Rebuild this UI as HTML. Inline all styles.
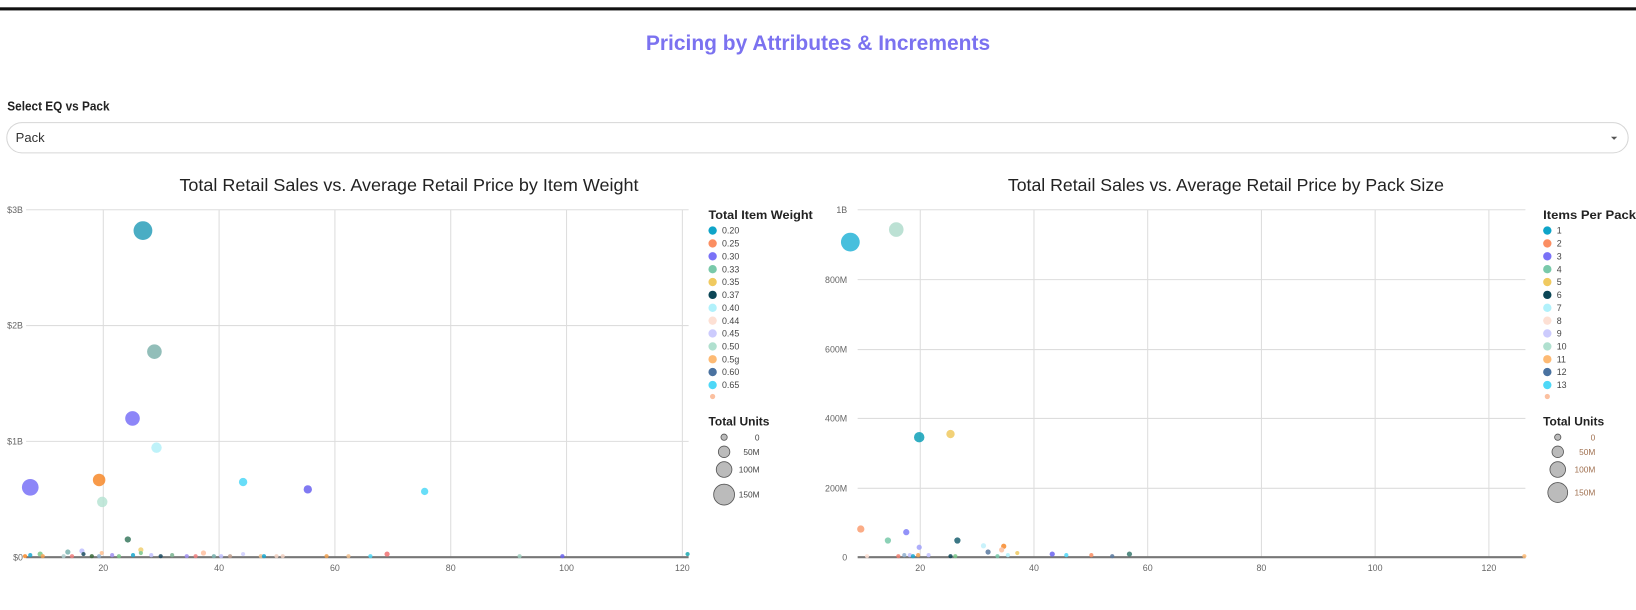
<!DOCTYPE html>
<html><head><meta charset="utf-8"><style>
html,body{margin:0;padding:0;background:#fff;width:1636px;height:610px;overflow:hidden}
svg{display:block}
text{font-family:"Liberation Sans",sans-serif}
</style></head><body>
<svg width="1636" height="610" viewBox="0 0 1568 584.6" preserveAspectRatio="none" xmlns="http://www.w3.org/2000/svg">
<rect x="0" y="7" width="1568" height="3" fill="#111"/>
<text x="784" y="48" text-anchor="middle" font-size="20" font-weight="bold" fill="#7b72f0" textLength="330" lengthAdjust="spacingAndGlyphs">Pricing by Attributes &amp; Increments</text>
<text x="7" y="106" font-size="12" font-weight="bold" fill="#222" textLength="98" lengthAdjust="spacingAndGlyphs">Select EQ vs Pack</text>
<rect x="6.5" y="117.5" width="1554" height="29" rx="14.5" fill="#fff" stroke="#d6d6d6"/>
<text x="15" y="136" font-size="12.5" fill="#333">Pack</text>
<path d="M1544 131 l6 0 l-3 3 z" fill="#555"/>

<!-- LEFT CHART -->
<text x="392" y="183" text-anchor="middle" font-size="17" fill="#222" textLength="440" lengthAdjust="spacingAndGlyphs">Total Retail Sales vs. Average Retail Price by Item Weight</text>
<g stroke="#ddd" stroke-width="1">
<line x1="25" y1="201" x2="660" y2="201"/><line x1="25" y1="312" x2="660" y2="312"/><line x1="25" y1="423" x2="660" y2="423"/>
<line x1="99" y1="201" x2="99" y2="534"/><line x1="210" y1="201" x2="210" y2="534"/><line x1="321" y1="201" x2="321" y2="534"/><line x1="432" y1="201" x2="432" y2="534"/><line x1="543" y1="201" x2="543" y2="534"/><line x1="654" y1="201" x2="654" y2="534"/>
</g>
<line x1="25" y1="534" x2="660" y2="534" stroke="#777" stroke-width="2"/>
<g font-size="8.5" fill="#666" text-anchor="end">
<text x="22" y="204">$3B</text><text x="22" y="315">$2B</text><text x="22" y="426">$1B</text><text x="22" y="537">$0</text>
</g>
<g font-size="8.5" fill="#666" text-anchor="middle">
<text x="99" y="547">20</text><text x="210" y="547">40</text><text x="321" y="547">60</text><text x="432" y="547">80</text><text x="543" y="547">100</text><text x="654" y="547">120</text>
</g>
<g opacity="0.85">
<circle cx="137" cy="221" r="9" fill="#2a9fba"/>
<circle cx="148" cy="337" r="7" fill="#7fb3ad"/>
<circle cx="127" cy="401" r="7" fill="#7a72f7"/>
<circle cx="150" cy="429" r="5" fill="#b3f0f9"/>
<circle cx="29" cy="467" r="8" fill="#7a72f7"/>
<circle cx="95" cy="460" r="6" fill="#f7892a"/>
<circle cx="98" cy="481" r="5" fill="#b8e4d4"/>
<circle cx="233" cy="462" r="4" fill="#4ed8f7"/>
<circle cx="295" cy="469" r="4" fill="#6a62f0"/>
<circle cx="407" cy="471" r="3.5" fill="#4ed8f7"/>
<circle cx="122.5" cy="517" r="3" fill="#3a7a60"/>
<circle cx="24" cy="533" r="2" fill="#f7892a"/><circle cx="29" cy="532" r="2" fill="#1aa8d0"/><circle cx="38.5" cy="531" r="2.5" fill="#7bc78a"/><circle cx="41" cy="533" r="2" fill="#f0a050"/>
<circle cx="65" cy="529" r="2.5" fill="#7ab3b0"/><circle cx="61" cy="533" r="2" fill="#b0d0d0"/><circle cx="69" cy="533" r="2" fill="#f08080"/>
<circle cx="78.5" cy="528" r="2.5" fill="#c0c0ff"/><circle cx="80" cy="531" r="2" fill="#1a4a60"/><circle cx="88" cy="533" r="2" fill="#3a6a3a"/>
<circle cx="97.5" cy="530" r="2" fill="#ffc090"/><circle cx="95" cy="533" r="2" fill="#90b0d0"/><circle cx="107.5" cy="532" r="2" fill="#a090f0"/><circle cx="114" cy="533" r="2" fill="#7bc78a"/>
<circle cx="127.5" cy="532" r="2" fill="#1aa8d0"/><circle cx="135" cy="527" r="2.5" fill="#f0d070"/><circle cx="135" cy="530" r="2" fill="#7bc78a"/>
<circle cx="145" cy="532" r="2" fill="#c0c0ff"/><circle cx="154" cy="533" r="2" fill="#1a4a60"/><circle cx="165" cy="532" r="2" fill="#7ab390"/>
<circle cx="179" cy="533" r="2" fill="#a090f0"/><circle cx="187.5" cy="533" r="2" fill="#f08080"/><circle cx="195" cy="530" r="2.5" fill="#ffc0a0"/>
<circle cx="205" cy="533" r="2" fill="#7ab3b0"/><circle cx="212" cy="533" r="2" fill="#c0c0ff"/><circle cx="220.5" cy="533" r="2" fill="#c0a090"/><circle cx="233" cy="531" r="2" fill="#d0d0ff"/>
<circle cx="250" cy="533" r="2" fill="#f0c090"/><circle cx="253" cy="533" r="2" fill="#1aa8d0"/><circle cx="265" cy="533" r="2" fill="#f0d0c0"/><circle cx="271" cy="533" r="2" fill="#f0d0c0"/>
<circle cx="313" cy="533" r="2" fill="#f0a050"/><circle cx="334" cy="533" r="2" fill="#f0c090"/><circle cx="355" cy="533" r="2" fill="#4ed8f7"/><circle cx="371" cy="531" r="2.5" fill="#f07070"/>
<circle cx="498" cy="533" r="2" fill="#a0d0c0"/><circle cx="539" cy="533" r="2" fill="#6a62f0"/><circle cx="659" cy="531" r="2" fill="#1aa8b0"/>
</g>
<g font-size="8.5" fill="#444">
<text x="679" y="210" font-size="11.5" font-weight="bold" fill="#222" textLength="100" lengthAdjust="spacingAndGlyphs">Total Item Weight</text>
<circle cx="683" cy="221" r="4" fill="#0fa4c8"/><text x="692" y="224">0.20</text>
<circle cx="683" cy="233.3" r="4" fill="#fb8e62"/><text x="692" y="236.3">0.25</text>
<circle cx="683" cy="245.6" r="4" fill="#7a72f7"/><text x="692" y="248.6">0.30</text>
<circle cx="683" cy="258" r="4" fill="#79c9aa"/><text x="692" y="261">0.33</text>
<circle cx="683" cy="270.3" r="4" fill="#f0ca60"/><text x="692" y="273.3">0.35</text>
<circle cx="683" cy="282.6" r="4" fill="#0b4656"/><text x="692" y="285.6">0.37</text>
<circle cx="683" cy="295" r="4" fill="#b1f1fb"/><text x="692" y="298">0.40</text>
<circle cx="683" cy="307.3" r="4" fill="#fde0d4"/><text x="692" y="310.3">0.44</text>
<circle cx="683" cy="319.6" r="4" fill="#cccbfd"/><text x="692" y="322.6">0.45</text>
<circle cx="683" cy="332" r="4" fill="#b0e0cf"/><text x="692" y="335">0.50</text>
<circle cx="683" cy="344.3" r="4" fill="#fdba74"/><text x="692" y="347.3">0.5g</text>
<circle cx="683" cy="356.6" r="4" fill="#4a72a0"/><text x="692" y="359.6">0.60</text>
<circle cx="683" cy="369" r="4" fill="#4ed8f7"/><text x="692" y="372">0.65</text>
<circle cx="683" cy="380" r="2.5" fill="#fbc0a0"/>
<text x="679" y="408" font-size="11.5" font-weight="bold" fill="#222">Total Units</text>
<g fill="#bbb" stroke="#555" stroke-width="0.8">
<circle cx="694" cy="419" r="3"/><circle cx="694" cy="433" r="5.5"/><circle cx="694" cy="450" r="7.5"/><circle cx="694" cy="474" r="10"/></g>
<g text-anchor="end" font-size="8"><text x="728" y="422">0</text><text x="728" y="436">50M</text><text x="728" y="453">100M</text><text x="728" y="477">150M</text></g>
</g>

<!-- RIGHT CHART -->
<text x="1175" y="183" text-anchor="middle" font-size="17" fill="#222" textLength="418" lengthAdjust="spacingAndGlyphs">Total Retail Sales vs. Average Retail Price by Pack Size</text>
<g stroke="#ddd" stroke-width="1">
<line x1="822" y1="201" x2="1462" y2="201"/><line x1="822" y1="268" x2="1462" y2="268"/><line x1="822" y1="335" x2="1462" y2="335"/><line x1="822" y1="401" x2="1462" y2="401"/><line x1="822" y1="468" x2="1462" y2="468"/>
<line x1="882" y1="201" x2="882" y2="534"/><line x1="991" y1="201" x2="991" y2="534"/><line x1="1100" y1="201" x2="1100" y2="534"/><line x1="1209" y1="201" x2="1209" y2="534"/><line x1="1318" y1="201" x2="1318" y2="534"/><line x1="1427" y1="201" x2="1427" y2="534"/>
</g>
<line x1="822" y1="534" x2="1462" y2="534" stroke="#777" stroke-width="2"/>
<g font-size="8.5" fill="#666" text-anchor="end">
<text x="812" y="204">1B</text><text x="812" y="271">800M</text><text x="812" y="338">600M</text><text x="812" y="404">400M</text><text x="812" y="471">200M</text><text x="812" y="537">0</text>
</g>
<g font-size="8.5" fill="#666" text-anchor="middle">
<text x="882" y="547">20</text><text x="991" y="547">40</text><text x="1100" y="547">60</text><text x="1209" y="547">80</text><text x="1318" y="547">100</text><text x="1427" y="547">120</text>
</g>
<g opacity="0.85">
<circle cx="815" cy="232" r="9" fill="#28b4d8"/>
<circle cx="859" cy="220" r="7" fill="#b0dccd"/>
<circle cx="881" cy="419" r="5" fill="#0fa0b8"/>
<circle cx="911" cy="416" r="4" fill="#f0ca60"/>
<circle cx="825" cy="507" r="3.5" fill="#fb9e72"/>
<circle cx="868.6" cy="510" r="3" fill="#8080f7"/>
<circle cx="851" cy="518" r="3" fill="#79c9aa"/>
<circle cx="917.6" cy="518" r="3" fill="#1a6070"/>
<circle cx="881" cy="524.5" r="2.5" fill="#a0a0fb"/>
<circle cx="942.6" cy="523" r="2.5" fill="#c0f0fb"/>
<circle cx="962" cy="523.5" r="2.5" fill="#f7892a"/><circle cx="960" cy="527" r="2.5" fill="#fbc0a0"/>
<circle cx="947" cy="529" r="2.5" fill="#5a7aa0"/><circle cx="975" cy="530" r="2" fill="#f0ca60"/>
<circle cx="831" cy="533" r="2" fill="#fde0d4"/><circle cx="861" cy="533" r="2" fill="#f08070"/><circle cx="866.7" cy="532" r="2" fill="#90b0d0"/>
<circle cx="872" cy="532" r="2" fill="#c0c0ff"/><circle cx="875" cy="533" r="2" fill="#1aa8d0"/><circle cx="880" cy="532" r="2" fill="#f0a050"/>
<circle cx="890" cy="532" r="2" fill="#c0c0ff"/><circle cx="911" cy="533" r="2" fill="#0b4656"/><circle cx="915.6" cy="533" r="2" fill="#7bc78a"/>
<circle cx="956" cy="533" r="2" fill="#79c9aa"/><circle cx="966" cy="532" r="2" fill="#b0f0fb"/>
<circle cx="1008.5" cy="531" r="2.5" fill="#6a62f0"/><circle cx="1022" cy="532" r="2" fill="#4ed8f7"/><circle cx="1046" cy="532" r="2" fill="#fb8e62"/>
<circle cx="1066" cy="533" r="2" fill="#5a7aa0"/><circle cx="1082.5" cy="531" r="2.5" fill="#3a7a70"/><circle cx="1461" cy="533" r="2" fill="#fdba74"/>
</g>
<g font-size="8.5" fill="#444">
<text x="1479" y="210" font-size="11.5" font-weight="bold" fill="#222" textLength="89" lengthAdjust="spacingAndGlyphs">Items Per Pack</text>
<circle cx="1483" cy="221" r="4" fill="#0fa4c8"/><text x="1492" y="224">1</text>
<circle cx="1483" cy="233.3" r="4" fill="#fb8e62"/><text x="1492" y="236.3">2</text>
<circle cx="1483" cy="245.6" r="4" fill="#7a72f7"/><text x="1492" y="248.6">3</text>
<circle cx="1483" cy="258" r="4" fill="#79c9aa"/><text x="1492" y="261">4</text>
<circle cx="1483" cy="270.3" r="4" fill="#f0ca60"/><text x="1492" y="273.3">5</text>
<circle cx="1483" cy="282.6" r="4" fill="#0b4656"/><text x="1492" y="285.6">6</text>
<circle cx="1483" cy="295" r="4" fill="#b1f1fb"/><text x="1492" y="298">7</text>
<circle cx="1483" cy="307.3" r="4" fill="#fde0d4"/><text x="1492" y="310.3">8</text>
<circle cx="1483" cy="319.6" r="4" fill="#cccbfd"/><text x="1492" y="322.6">9</text>
<circle cx="1483" cy="332" r="4" fill="#b0e0cf"/><text x="1492" y="335">10</text>
<circle cx="1483" cy="344.3" r="4" fill="#fdba74"/><text x="1492" y="347.3">11</text>
<circle cx="1483" cy="356.6" r="4" fill="#4a72a0"/><text x="1492" y="359.6">12</text>
<circle cx="1483" cy="369" r="4" fill="#4ed8f7"/><text x="1492" y="372">13</text>
<circle cx="1483" cy="380" r="2.5" fill="#fbc0a0"/>
<text x="1479" y="408" font-size="11.5" font-weight="bold" fill="#222">Total Units</text>
<g fill="#bbb" stroke="#555" stroke-width="0.8">
<circle cx="1493" cy="419" r="3"/><circle cx="1493" cy="433" r="5.5"/><circle cx="1493" cy="450" r="7.5"/><circle cx="1493" cy="472" r="9.5"/></g>
<g text-anchor="end" font-size="8" fill="#a07050"><text x="1529" y="422">0</text><text x="1529" y="436">50M</text><text x="1529" y="453">100M</text><text x="1529" y="475">150M</text></g>
</g>
</svg>
</body></html>
